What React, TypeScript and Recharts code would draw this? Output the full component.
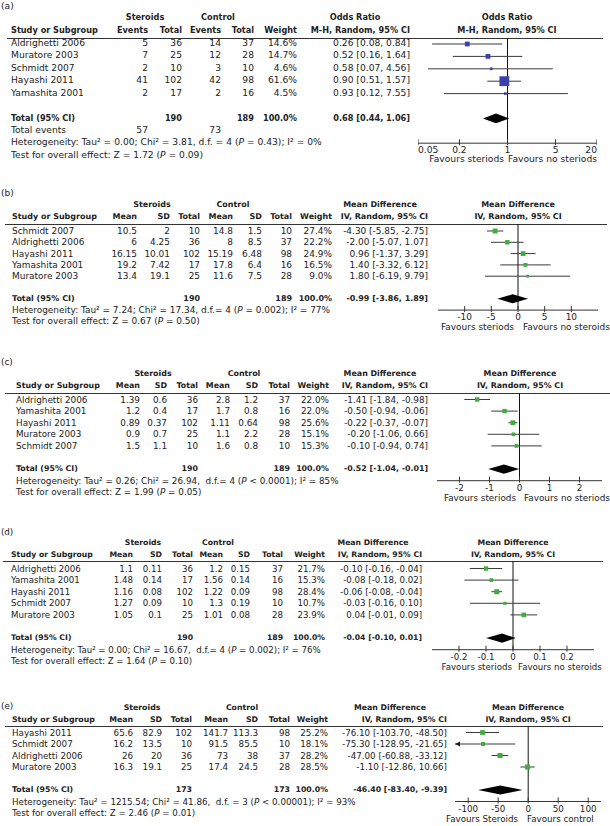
import React from 'react';
import { ScatterChart, Scatter, XAxis, YAxis, ReferenceLine, ReferenceDot } from 'recharts';

const FONT = '"DejaVu Sans", Verdana, sans-serif';
const INK = '#222';
const BLUE = '#3d41ae';
const GREEN = '#3fae3f';

// (a) odds ratio, events
const aStudies = ['Aldrighetti 2006', 'Muratore 2003', 'Schmidt 2007', 'Hayashi 2011', 'Yamashita 2001'];
const aSterEvents = [5, 7, 2, 41, 2];
const aSterTotal = [36, 25, 10, 102, 17];
const aCtrlEvents = [14, 12, 3, 42, 2];
const aCtrlTotal = [37, 28, 10, 98, 16];
const aWeight = [14.6, 14.7, 4.6, 61.6, 4.5];
const aEst = [0.26, 0.52, 0.58, 0.9, 0.93];
const aLo = [0.08, 0.16, 0.07, 0.51, 0.12];
const aHi = [0.84, 1.64, 4.56, 1.57, 7.55];
const aTotals = [190, 189, 57, 73];
const aPooled = [0.68, 0.44, 1.06];
const aTicks = [0.05, 0.2, 1, 5, 20];

// (b)
const bStudies = ['Schmidt 2007', 'Aldrighetti 2006', 'Hayashi 2011', 'Yamashita 2001', 'Muratore 2003'];
const bSterMean = [10.5, 6, 16.15, 19.2, 13.4];
const bSterSD = [2, 4.25, 10.01, 7.42, 19.1];
const bSterTotal = [10, 36, 102, 17, 25];
const bCtrlMean = [14.8, 8, 15.19, 17.8, 11.6];
const bCtrlSD = [1.5, 8.5, 6.48, 6.4, 7.5];
const bCtrlTotal = [10, 37, 98, 16, 28];
const bWeight = [27.4, 22.2, 24.9, 16.5, 9.0];
const bEst = [-4.3, -2.0, 0.96, 1.4, 1.8];
const bLo = [-5.85, -5.07, -1.37, -3.32, -6.19];
const bHi = [-2.75, 1.07, 3.29, 6.12, 9.79];
const bTotals = [190, 189];
const bPooled = [-0.99, -3.86, 1.89];
const bTicks = [-10, -5, 0, 5, 10];

// (c)
const cStudies = ['Aldrighetti 2006', 'Yamashita 2001', 'Hayashi 2011', 'Muratore 2003', 'Schmidt 2007'];
const cSterMean = [1.39, 1.2, 0.89, 0.9, 1.5];
const cSterSD = [0.6, 0.4, 0.37, 0.7, 1.1];
const cSterTotal = [36, 17, 102, 25, 10];
const cCtrlMean = [2.8, 1.7, 1.11, 1.1, 1.6];
const cCtrlSD = [1.2, 0.8, 0.64, 2.2, 0.8];
const cCtrlTotal = [37, 16, 98, 28, 10];
const cWeight = [22.0, 22.0, 25.6, 15.1, 15.3];
const cEst = [-1.41, -0.5, -0.22, -0.2, -0.1];
const cLo = [-1.84, -0.94, -0.37, -1.06, -0.94];
const cHi = [-0.98, -0.06, -0.07, 0.66, 0.74];
const cTotals = [190, 189];
const cPooled = [-0.52, -1.04, -0.01];
const cTicks = [-2, -1, 0, 1, 2];

// (d)
const dStudies = ['Aldrighetti 2006', 'Yamashita 2001', 'Hayashi 2011', 'Schmidt 2007', 'Muratore 2003'];
const dSterMean = [1.1, 1.48, 1.16, 1.27, 1.05];
const dSterSD = [0.11, 0.14, 0.08, 0.09, 0.1];
const dSterTotal = [36, 17, 102, 10, 25];
const dCtrlMean = [1.2, 1.56, 1.22, 1.3, 1.01];
const dCtrlSD = [0.15, 0.14, 0.09, 0.19, 0.08];
const dCtrlTotal = [37, 16, 98, 10, 28];
const dWeight = [21.7, 15.3, 28.4, 10.7, 23.9];
const dEst = [-0.1, -0.08, -0.06, -0.03, 0.04];
const dLo = [-0.16, -0.18, -0.08, -0.16, -0.01];
const dHi = [-0.04, 0.02, -0.04, 0.1, 0.09];
const dTotals = [190, 189];
const dPooled = [-0.04, -0.1, 0.01];
const dTicks = [-0.2, -0.1, 0, 0.1, 0.2];

// (e)
const eStudies = ['Hayashi 2011', 'Schmidt 2007', 'Aldrighetti 2006', 'Muratore 2003'];
const eSterMean = [65.6, 16.2, 26, 16.3];
const eSterSD = [82.9, 13.5, 20, 19.1];
const eSterTotal = [102, 10, 36, 25];
const eCtrlMean = [141.7, 91.5, 73, 17.4];
const eCtrlSD = [113.3, 85.5, 38, 24.5];
const eCtrlTotal = [98, 10, 37, 28];
const eWeight = [25.2, 18.1, 28.2, 28.5];
const eEst = [-76.1, -75.3, -47.0, -1.1];
const eLo = [-103.7, -128.95, -60.88, -12.86];
const eHi = [-48.5, -21.65, -33.12, 10.66];
const eTotals = [173, 173];
const ePooled = [-46.4, -83.4, -9.39];
const eTicks = [-100, -50, 0, 50, 100];

const pct = (w: number) => `${w.toFixed(1)}%`;
const ci = (e: number, l: number, h: number) => `${e.toFixed(2)} [${l.toFixed(2)}, ${h.toFixed(2)}]`;
const str = (a: number[]) => a.map(String);

// regular text runs a bit wider than DejaVu at the same size, bold a bit narrower
const REG = 1.04;
const BOLD = 0.93;

function T({ x, y, a = 'l', b = false, fs, children }: any) {
  const tx = a === 'r' ? '-100%' : a === 'c' ? '-50%' : '0';
  return (
    <div
      style={{
        position: 'absolute', left: x, top: y, transform: `translate(${tx}, -50%)`,
        whiteSpace: 'pre', fontSize: fs * (b ? BOLD : REG), lineHeight: 1,
        fontWeight: b ? 'bold' : 'normal', color: INK,
      }}
    >
      {children}
    </div>
  );
}

function Het({ tau, chi, df, p, i2 }: any) {
  return (
    <>
      Heterogeneity: Tau² = {tau}; Chi² = {chi}, {df} (<i>P</i> {p}); I² = {i2}%
    </>
  );
}

function Test({ z, p }: any) {
  return (
    <>
      Test for overall effect: Z = {z} (<i>P</i> = {p})
    </>
  );
}

function Tick(props: any) {
  const { x, y, payload, fs, dmin, dmax } = props;
  const v = payload.value;
  const anchor = v === dmin ? 'start' : v === dmax ? 'end' : 'middle';
  return (
    <g>
      <line x1={x} x2={x} y1={y - 4} y2={y + 2} stroke="#333" />
      <text x={x} y={y + 7} dy="0.35em" textAnchor={anchor} fontSize={fs * REG} fill={INK} fontFamily={FONT}>
        {String(v)}
      </text>
    </g>
  );
}

function Forest({ d }: { d: any }) {
  const p = d.plot;
  const axisY = d.row0 + d.hetIdx * d.step;
  const plotH = axisY - d.lineY;
  const yMin = (d.lineY - d.row0) / d.step;
  const pts = p.est.map((e: number, i: number) => ({ x: e, y: i, w: p.weight[i] }));
  const ti = d.totalIdx;
  const dh = 0.4;
  const diamond = [
    { x: p.tot[1], y: ti }, { x: p.tot[0], y: ti - dh }, { x: p.tot[2], y: ti }, { x: p.tot[0], y: ti + dh },
  ];
  return (
    <div style={{ position: 'absolute', left: p.left, top: d.lineY }}>
      <ScatterChart width={p.width} height={plotH + 24} margin={{ top: 0, right: 0, bottom: 0, left: 0 }}>
        <XAxis
          type="number" dataKey="x" scale={p.log ? 'log' : 'linear'} domain={p.domain} ticks={p.ticks}
          interval={0} allowDataOverflow height={24} tickSize={0} tickMargin={0} tickLine={false}
          axisLine={{ stroke: '#333' }}
          tick={<Tick fs={d.fs} dmin={p.domain[0]} dmax={p.domain[1]} />}
        />
        <YAxis type="number" dataKey="y" domain={[yMin, d.hetIdx]} reversed hide allowDataOverflow />
        <ReferenceLine x={p.nullX} stroke="#111" ifOverflow="visible" />
        {p.est.map((_: number, i: number) => (
          <ReferenceLine
            key={i} segment={[{ x: p.lo[i], y: i }, { x: p.hi[i], y: i }]}
            stroke="#3a3a3a" ifOverflow="hidden"
          />
        ))}
        {p.lo.map((l: number, i: number) =>
          l < p.domain[0] ? (
            <ReferenceDot
              key={'arr' + i} x={p.domain[0]} y={i} r={0} ifOverflow="visible"
              shape={(s: any) => (
                <polygon
                  points={`${s.cx},${s.cy} ${s.cx + 5},${s.cy - 2.5} ${s.cx + 5},${s.cy + 2.5}`}
                  fill="#222"
                />
              )}
            />
          ) : null
        )}
        <Scatter
          data={pts} isAnimationActive={false}
          shape={(s: any) => {
            const side = p.boxK * Math.sqrt(s.payload.w);
            return <rect x={s.cx - side / 2} y={s.cy - side / 2} width={side} height={side} fill={p.color} />;
          }}
        />
        <Scatter
          data={diamond} isAnimationActive={false} lineType="joint"
          line={(lp: any) => (
            <polygon points={lp.points.map((q: any) => `${q.x},${q.y}`).join(' ')} fill="#000" stroke="none" />
          )}
          shape={() => <g />}
        />
      </ScatterChart>
    </div>
  );
}

function Panel({ d }: { d: any }) {
  const yOf = (i: number) => d.row0 + i * d.step;
  const p = d.plot;
  const axisY = yOf(d.hetIdx);
  const fs = d.fs;
  return (
    <>
      <T x={1} y={d.labelY} fs={fs}>{d.label}</T>
      {d.groups.map((g: any) => (
        <T key={g.text} x={g.x} y={d.groupY} a="c" b fs={fs}>{g.text}</T>
      ))}
      <T x={d.studyX} y={d.colY} b fs={fs}>Study or Subgroup</T>
      {d.cols.map((c: any, j: number) => (
        <T key={j} x={c.x} y={d.colY} a="r" b fs={fs}>{c.head}</T>
      ))}
      <T x={d.effHeadX} y={d.groupY} a="c" b fs={fs}>{d.effHead[0]}</T>
      <T x={d.effX} y={d.colY} a="r" b fs={fs}>{d.effHead[1]}</T>
      <T x={p.headX} y={d.groupY} a="c" b fs={fs}>{d.effHead[0]}</T>
      <T x={p.headX} y={d.colY} a="c" b fs={fs}>{d.effHead[1]}</T>
      <div
        style={{
          position: 'absolute', left: d.lineX[0], top: d.lineY, width: d.lineX[1] - d.lineX[0],
          borderTop: '1px solid #333',
        }}
      />
      {d.studies.map((s: string, i: number) => (
        <React.Fragment key={s}>
          <T x={d.studyX} y={yOf(i)} fs={fs}>{s}</T>
          {d.cols.map((c: any, j: number) => (
            <T key={j} x={c.x} y={yOf(i)} a="r" fs={fs}>{c.vals[i]}</T>
          ))}
          <T x={d.effX} y={yOf(i)} a="r" fs={fs}>{ci(p.est[i], p.lo[i], p.hi[i])}</T>
        </React.Fragment>
      ))}
      <T x={d.studyX} y={yOf(d.totalIdx)} b fs={fs}>Total (95% CI)</T>
      {d.totalCells.map((c: any, j: number) => (
        <T key={j} x={c.x} y={yOf(d.totalIdx)} a="r" b fs={fs}>{c.text}</T>
      ))}
      <T x={d.effX} y={yOf(d.totalIdx)} a="r" b fs={fs}>{ci(p.tot[0], p.tot[1], p.tot[2])}</T>
      {d.eventsRow ? (
        <>
          <T x={d.studyX} y={yOf(d.totalIdx + 1)} fs={fs}>Total events</T>
          {d.eventsRow.map((c: any, j: number) => (
            <T key={j} x={c.x} y={yOf(d.totalIdx + 1)} a="r" fs={fs}>{c.text}</T>
          ))}
        </>
      ) : null}
      <T x={d.studyX} y={yOf(d.hetIdx)} fs={fs}>{d.het}</T>
      <T x={d.studyX} y={yOf(d.hetIdx + 1)} fs={fs}>{d.test}</T>
      <T x={p.favLX} y={axisY + 17} a="r" fs={fs}>{p.favL}</T>
      <T x={p.favRX} y={axisY + 17} fs={fs}>{p.favR}</T>
      <Forest d={d} />
    </>
  );
}

const mdCols = (xs: number[], sm: number[], ss: number[], st: number[], cm: number[], cs: number[], ct: number[], w: number[]) => [
  { x: xs[0], head: 'Mean', vals: str(sm) },
  { x: xs[1], head: 'SD', vals: str(ss) },
  { x: xs[2], head: 'Total', vals: str(st) },
  { x: xs[3], head: 'Mean', vals: str(cm) },
  { x: xs[4], head: 'SD', vals: str(cs) },
  { x: xs[5], head: 'Total', vals: str(ct) },
  { x: xs[6], head: 'Weight', vals: w.map(pct) },
];

const panelA = {
  label: '(a)', labelY: 7, groupY: 17, colY: 30, lineY: 38, lineX: [7, 603], row0: 44, step: 12.4, fs: 8.8,
  studyX: 11, studies: aStudies,
  groups: [{ text: 'Steroids', x: 145 }, { text: 'Control', x: 218 }],
  cols: [
    { x: 148, head: 'Events', vals: str(aSterEvents) },
    { x: 182, head: 'Total', vals: str(aSterTotal) },
    { x: 221, head: 'Events', vals: str(aCtrlEvents) },
    { x: 254, head: 'Total', vals: str(aCtrlTotal) },
    { x: 297, head: 'Weight', vals: aWeight.map(pct) },
  ],
  effX: 410, effHeadX: 355, effHead: ['Odds Ratio', 'M-H, Random, 95% CI'],
  totalIdx: 6,
  totalCells: [{ x: 182, text: String(aTotals[0]) }, { x: 254, text: String(aTotals[1]) }, { x: 297, text: '100.0%' }],
  eventsRow: [{ x: 148, text: String(aTotals[2]) }, { x: 221, text: String(aTotals[3]) }],
  hetIdx: 8,
  het: <Het tau="0.00" chi="3.81" df="d.f. = 4" p="= 0.43" i2="0" />,
  test: <Test z="1.72" p="0.09" />,
  plot: {
    left: 418, width: 179, domain: [0.05, 20], ticks: aTicks, log: true, nullX: 1, color: BLUE, boxK: 1.25,
    est: aEst, lo: aLo, hi: aHi, weight: aWeight, tot: aPooled, headX: 507,
    favL: 'Favours steriods', favR: 'Favours no steriods', favLX: 504, favRX: 508,
  },
};

const panelB = {
  label: '(b)', labelY: 193, groupY: 205, colY: 217, lineY: 224, lineX: [5, 607], row0: 231, step: 11.3, fs: 8.6,
  studyX: 12, studies: bStudies,
  groups: [{ text: 'Steroids', x: 152 }, { text: 'Control', x: 233 }],
  cols: mdCols([137, 170, 200, 233, 262, 292, 332], bSterMean, bSterSD, bSterTotal, bCtrlMean, bCtrlSD, bCtrlTotal, bWeight),
  effX: 428, effHeadX: 380, effHead: ['Mean Difference', 'IV, Random, 95% CI'],
  totalIdx: 6,
  totalCells: [{ x: 200, text: String(bTotals[0]) }, { x: 292, text: String(bTotals[1]) }, { x: 332, text: '100.0%' }],
  hetIdx: 7,
  het: <Het tau="7.24" chi="17.34" df="d.f.= 4" p="= 0.002" i2="77" />,
  test: <Test z="0.67" p="0.50" />,
  plot: {
    left: 438, width: 160, domain: [-15, 15], ticks: bTicks, nullX: 0, color: GREEN, boxK: 0.95,
    est: bEst, lo: bLo, hi: bHi, weight: bWeight, tot: bPooled, headX: 518,
    favL: 'Favours steriods', favR: 'Favours no steroids', favLX: 514, favRX: 523,
  },
};

const panelC = {
  label: '(c)', labelY: 362, groupY: 374, colY: 386, lineY: 393, lineX: [5, 610], row0: 399.5, step: 11.6, fs: 8.5,
  studyX: 16, studies: cStudies,
  groups: [{ text: 'Steroids', x: 153 }, { text: 'Control', x: 244 }],
  cols: mdCols([140, 167, 198, 230, 258, 290, 329], cSterMean, cSterSD, cSterTotal, cCtrlMean, cCtrlSD, cCtrlTotal, cWeight),
  effX: 428, effHeadX: 380, effHead: ['Mean Difference', 'IV, Random, 95% CI'],
  totalIdx: 6,
  totalCells: [{ x: 198, text: String(cTotals[0]) }, { x: 290, text: String(cTotals[1]) }, { x: 329, text: '100.0%' }],
  hetIdx: 7,
  het: <Het tau="0.26" chi="26.94" df=" d.f.= 4" p="< 0.0001" i2="85" />,
  test: <Test z="1.99" p="0.05" />,
  plot: {
    left: 437, width: 165, domain: [-2.75, 2.75], ticks: cTicks, nullX: 0, color: GREEN, boxK: 0.95,
    est: cEst, lo: cLo, hi: cHi, weight: cWeight, tot: cPooled, headX: 520,
    favL: 'Favours steriods', favR: 'Favours no steriods', favLX: 516, favRX: 524,
  },
};

const panelD = {
  label: '(d)', labelY: 532, groupY: 543, colY: 555, lineY: 561, lineX: [3, 603], row0: 568.5, step: 11.6, fs: 8.3,
  studyX: 11, studies: dStudies,
  groups: [{ text: 'Steroids', x: 143 }, { text: 'Control', x: 218 }],
  cols: mdCols([133, 162, 193, 223, 250, 283, 325], dSterMean, dSterSD, dSterTotal, dCtrlMean, dCtrlSD, dCtrlTotal, dWeight),
  effX: 422, effHeadX: 373, effHead: ['Mean Difference', 'IV, Random, 95% CI'],
  totalIdx: 6,
  totalCells: [{ x: 193, text: String(dTotals[0]) }, { x: 283, text: String(dTotals[1]) }, { x: 325, text: '100.0%' }],
  hetIdx: 7,
  het: <Het tau="0.00" chi="16.67" df=" d.f.= 4" p="= 0.002" i2="76" />,
  test: <Test z="1.64" p="0.10" />,
  plot: {
    left: 432, width: 162, domain: [-0.3, 0.3], ticks: dTicks, nullX: 0, color: GREEN, boxK: 0.95,
    est: dEst, lo: dLo, hi: dHi, weight: dWeight, tot: dPooled, headX: 513,
    favL: 'Favours steriods', favR: 'Favours no steroids', favLX: 512, favRX: 518,
  },
};

const panelE = {
  label: '(e)', labelY: 706, groupY: 708, colY: 720, lineY: 726, lineX: [5, 603], row0: 732.5, step: 11.5, fs: 8.4,
  studyX: 12, studies: eStudies,
  groups: [{ text: 'Steroids', x: 142 }, { text: 'Control', x: 242 }],
  cols: mdCols([133, 162, 192, 228, 258, 290, 328], eSterMean, eSterSD, eSterTotal, eCtrlMean, eCtrlSD, eCtrlTotal, eWeight),
  effX: 447, effHeadX: 390, effHead: ['Mean Difference', 'IV, Random, 95% CI'],
  totalIdx: 5,
  totalCells: [{ x: 192, text: String(eTotals[0]) }, { x: 290, text: String(eTotals[1]) }, { x: 328, text: '100.0%' }],
  hetIdx: 6,
  het: <Het tau="1215.54" chi="41.86" df=" d.f. = 3" p="< 0.00001" i2="93" />,
  test: <Test z="2.46" p="0.01" />,
  plot: {
    left: 455, width: 146.4, domain: [-122, 122], ticks: eTicks, nullX: 0, color: GREEN, boxK: 0.95,
    est: eEst, lo: eLo, hi: eHi, weight: eWeight, tot: ePooled, headX: 528,
    favL: 'Favours Steroids', favR: 'Favours control', favLX: 518, favRX: 527,
  },
};

export default function App() {
  return (
    <div
      style={{
        position: 'absolute', left: 0, top: 0, width: 610, height: 826, background: '#fff',
        fontFamily: FONT, overflow: 'hidden',
      }}
    >
      {[panelA, panelB, panelC, panelD, panelE].map((d) => (
        <Panel key={d.label} d={d} />
      ))}
    </div>
  );
}
